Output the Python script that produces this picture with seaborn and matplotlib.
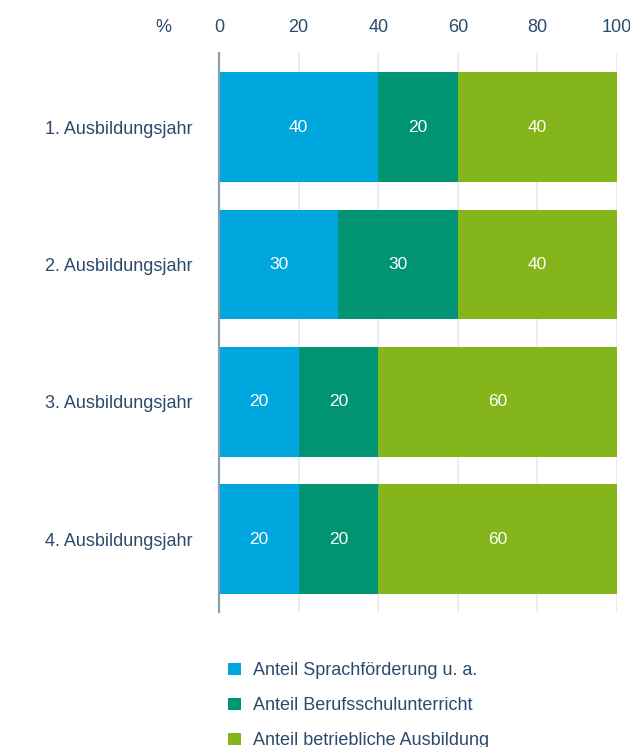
import matplotlib
matplotlib.use("Agg")
import matplotlib.pyplot as plt
import seaborn as sns
import pandas as pd
import numpy as np

# Data
years = ["1. Ausbildungsjahr", "2. Ausbildungsjahr", "3. Ausbildungsjahr", "4. Ausbildungsjahr"]
sprachfoerderung = [40, 30, 20, 20]
berufsschule = [20, 30, 20, 20]
betrieblich = [40, 40, 60, 60]
series_names = ["Anteil Sprachförderung u. a.", "Anteil Berufsschulunterricht", "Anteil betriebliche Ausbildung"]
x_ticks = [0, 20, 40, 60, 80, 100]

colors = ["#00a6de", "#009473", "#84b61c"]
text_color = "#2c4b6c"

sns.set_theme(style="white")
plt.rcParams["font.family"] = ["Liberation Sans", "DejaVu Sans"]

df = pd.DataFrame({
    "year": years,
    "s1": sprachfoerderung,
    "s2": berufsschule,
    "s3": betrieblich,
})
df["c1"] = df["s1"]
df["c2"] = df["s1"] + df["s2"]
df["c3"] = df["s1"] + df["s2"] + df["s3"]

fig = plt.figure(figsize=(6.30, 7.47), dpi=100)
ax = fig.add_axes([0.3476, 0.1807, 0.9794 - 0.3476, 0.929 - 0.1807])

# Stacked bars: draw cumulative totals from the widest down
for col, color, name in [("c3", colors[2], series_names[2]),
                         ("c2", colors[1], series_names[1]),
                         ("c1", colors[0], series_names[0])]:
    sns.barplot(data=df, x=col, y="year", color=color, orient="h",
                width=0.8, ax=ax, label=name, saturation=1, zorder=3,
                linewidth=0, edgecolor="none")

# Value labels inside segments
for i, row in df.iterrows():
    starts = [0, row["c1"], row["c2"]]
    vals = [row["s1"], row["s2"], row["s3"]]
    for st, v in zip(starts, vals):
        ax.text(st + v / 2, i, f"{v}", ha="center", va="center",
                color="white", fontsize=12.5, zorder=5)

ax.set_xlim(0, 100)
ax.set_ylim(3.53, -0.54)
ax.set_xlabel("")
ax.set_ylabel("")
ax.set_xticks(x_ticks)
ax.xaxis.tick_top()
ax.tick_params(axis="x", length=0, pad=12, labelsize=13, labelcolor=text_color)
ax.tick_params(axis="y", length=0, pad=19, labelsize=13, labelcolor=text_color)
ax.grid(axis="x", color="#e6ebf0", linewidth=1.2, zorder=0)
ax.grid(axis="y", visible=False)
for s in ["top", "right", "bottom"]:
    ax.spines[s].set_visible(False)
ax.spines["left"].set_color("#8c9fb2")
ax.spines["left"].set_linewidth(1.6)
ax.spines["left"].set_zorder(4)

# Percent sign to the left of the top axis labels
fig.text(163 / 630, 1 - 27 / 747, "%", ha="center", va="center",
         color=text_color, fontsize=13)

handles, labels = ax.get_legend_handles_labels()
order = [labels.index(n) for n in series_names]
fig.legend([handles[k] for k in order], [labels[k] for k in order],
           loc="upper left", bbox_to_anchor=(221 / 630, 1 - 655 / 747),
           frameon=False, handlelength=0.7, handleheight=0.7,
           handletextpad=0.7, labelspacing=1.0, fontsize=13,
           labelcolor=text_color, borderaxespad=0)
if ax.get_legend():
    ax.get_legend().remove()

fig.savefig("out.png", dpi=100, facecolor="white")
